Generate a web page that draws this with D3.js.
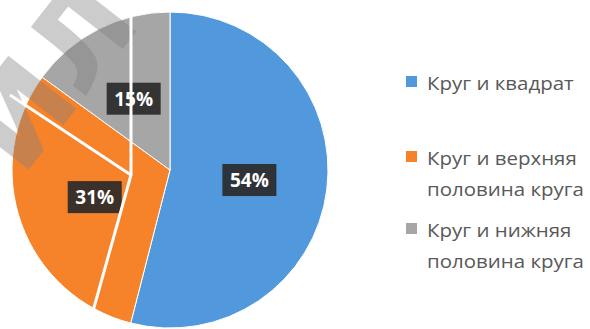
<!DOCTYPE html>
<html>
<head>
<meta charset="utf-8">
<script src="https://cdn.jsdelivr.net/npm/d3@7"></script>
<style>
  html, body { margin: 0; padding: 0; background: #fff; }
  svg { display: block; }
</style>
</head>
<body>
<svg id="chart" width="590" height="329"></svg>
<script>
// Answer shares, in percent
const categories = ["Круг и квадрат", "Круг и верхняя половина круга", "Круг и нижняя половина круга"];
const legendLines = [["Круг и квадрат"], ["Круг и верхняя", "половина круга"], ["Круг и нижняя", "половина круга"]];
const values = [54, 31, 15];
const colors = ["#5199DC", "#F6822A", "#A6A6A6"];

const svg = d3.select("#chart");
const cx = 170, cy = 170, radius = 158, labelRadius = 80;

const pie = d3.pie().sort(null).value(d => d)(values);
const arc = d3.arc().innerRadius(0).outerRadius(radius);
const labelArc = d3.arc().innerRadius(labelRadius).outerRadius(labelRadius);

const g = svg.append("g").attr("transform", `translate(${cx},${cy})`);

g.selectAll("path.slice")
  .data(pie)
  .join("path")
  .attr("class", "slice")
  .attr("d", arc)
  .attr("fill", (d, i) => colors[i])
  .attr("stroke", "#fff")
  .attr("stroke-width", 1);

// Watermark letters
svg.append("text")
  .attr("transform", "translate(22,178) rotate(-52)")
  .attr("font-family", "DejaVu Sans")
  .attr("font-weight", "bold")
  .attr("font-size", 118)
  .attr("fill", "#808080")
  .attr("fill-opacity", 0.4)
  .text("ИЛ");

// White overlay strokes
const overlay = d3.line();
svg.append("path")
  .attr("d", overlay([[131, 0], [131, 175], [88, 329]]))
  .attr("fill", "none").attr("stroke", "#fff").attr("stroke-width", 3);
svg.append("path")
  .attr("d", overlay([[10, 95], [131, 175]]))
  .attr("fill", "none").attr("stroke", "#fff").attr("stroke-width", 3);

// Data labels
const labels = g.selectAll("g.label")
  .data(pie)
  .join("g")
  .attr("class", "label")
  .attr("transform", d => `translate(${labelArc.centroid(d)})`);

labels.append("rect")
  .attr("x", -27).attr("y", -16).attr("width", 54).attr("height", 32)
  .attr("fill", "#2a2a2a").attr("fill-opacity", 0.92);

labels.append("text")
  .attr("text-anchor", "middle")
  .attr("dy", "0.36em")
  .attr("font-family", "Open Sans")
  .attr("font-weight", "bold")
  .attr("font-size", 19)
  .attr("fill", "#fff")
  .text(d => d.data + "%");

// Legend
const legendBase = [90, 165, 237];
const legend = svg.append("g");
legendLines.forEach((lines, i) => {
  legend.append("rect")
    .attr("x", 406).attr("y", legendBase[i] - 14).attr("width", 11).attr("height", 11)
    .attr("fill", colors[i]);
  lines.forEach((t, j) => {
    legend.append("text")
      .attr("transform", `translate(427,${legendBase[i] + j * 31}) scale(1.17,1)`)
      .attr("font-family", "Open Sans")
      .attr("font-size", 17.5)
      .attr("fill", "#595959")
      .text(t);
  });
});
</script>
</body>
</html>
